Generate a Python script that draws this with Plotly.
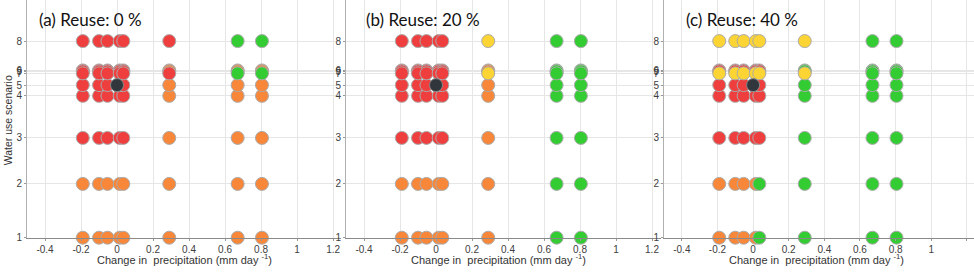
import plotly.graph_objects as go

# ---------------- data ----------------
precip_change = [-0.19, -0.10, -0.053, 0.015, 0.035, 0.29, 0.67, 0.805]   # mm/day
scenarios = [1, 2, 3, 4, 5, 6, 9, 7, 8]                                   # drawing order
scenario_level = {1: 0, 2: 55, 3: 102, 4: 145, 5: 156, 6: 171, 9: 170, 7: 168, 8: 201}
tick_scenarios = [1, 2, 3, 4, 5, 6, 7, 9, 8]

panel_titles = ["(a) Reuse: 0 %", "(b) Reuse: 20 %", "(c) Reuse: 40 %"]

# outcome class per scenario row (one letter per precipitation column)
outcome_a = {1: "OOOOOOOO", 2: "OOOOOOOO", 3: "RRRRROOO", 4: "RRRRROOO", 5: "RRRRROOO",
             6: "RRRRROOO", 9: "RRRRROOO", 7: "RRRRRRGG", 8: "RRRRRRGG"}
outcome_b = {1: "OOOOOOGG", 2: "OOOOOOGG", 3: "RRRRROGG", 4: "RRRRROGG", 5: "RRRRROGG",
             6: "RRRRROGG", 9: "RRRRROGG", 7: "RRRRRYGG", 8: "RRRRRYGG"}
outcome_c = {1: "OOOOGGGG", 2: "OOOOGGGG", 3: "RRRRRGGG", 4: "RRRRRGGG", 5: "RRRRRGGG",
             6: "RRRRRGGG", 9: "RRRRRGGG", 7: "YYYYYYGG", 8: "YYYYYYGG"}
outcomes = [outcome_a, outcome_b, outcome_c]

baseline_x = [0.0]
baseline_scenario = [5]

x_tick_vals = [-0.4, -0.2, 0, 0.2, 0.4, 0.6, 0.8, 1, 1.2]
x_tick_text = ["-0.4", "-0.2", "0", "0.2", "0.4", "0.6", "0.8", "1", "1.2"]

# ---------------- style ----------------
W, H = 974, 275
palette = {"R": "#EF3E3E", "O": "#F8873A", "G": "#33CC33", "Y": "#FCD535"}
x_domains_px = [(27, 341), (346, 661), (664, 974)]
x_ranges = [[-0.5, 1.244], [-0.5, 1.25], [-0.5, 1.24]]
y_bottom_px, y_top_px = 243, 0
title_x_px = [37, 364, 684]
xtitle_center_px = [184, 498, 816]

fig = go.Figure()
for p in range(3):
    sfx = "" if p == 0 else str(p + 1)
    for s in scenarios:
        fig.add_trace(go.Scatter(
            x=precip_change, y=[scenario_level[s]] * len(precip_change),
            mode="markers", xaxis="x" + sfx, yaxis="y" + sfx, cliponaxis=False,
            marker=dict(size=13, color=[palette[c] for c in outcomes[p][s]],
                        line=dict(color="#ABABAB", width=1)),
            showlegend=False, hoverinfo="x+y"))
    fig.add_trace(go.Scatter(
        x=baseline_x, y=[scenario_level[s] for s in baseline_scenario],
        mode="markers", xaxis="x" + sfx, yaxis="y" + sfx, cliponaxis=False,
        marker=dict(size=13, color="#30363C", line=dict(color="#888888", width=1)),
        showlegend=False))

ybot = (H - y_bottom_px) / H
axis_common = dict(showgrid=True, gridcolor="#E6E6E6", gridwidth=1, zeroline=False,
                   showline=True, linecolor="#8A8A8A", linewidth=1,
                   ticks="outside", ticklen=2, tickcolor="#9A9A9A",
                   tickfont=dict(family="Liberation Sans, Arial", size=10, color="#404040"))
layout = dict(width=W, height=H, margin=dict(l=0, r=0, t=0, b=0),
              paper_bgcolor="white", plot_bgcolor="rgba(0,0,0,0)", showlegend=False)
for p in range(3):
    sfx = "" if p == 0 else str(p + 1)
    d0, d1 = x_domains_px[p]
    layout["xaxis" + sfx] = dict(axis_common, domain=[d0 / W, d1 / W], range=x_ranges[p],
                                 tickvals=x_tick_vals, ticktext=x_tick_text,
                                 anchor="y" + sfx)
    layout["yaxis" + sfx] = dict(axis_common, domain=[ybot, 1.0],
                                 range=[0, y_bottom_px - y_top_px],
                                 tickvals=[scenario_level[s] for s in tick_scenarios],
                                 ticktext=[str(s) for s in tick_scenarios],
                                 linecolor="#B0B0B0",
                                 anchor="x" + sfx)
fig.update_layout(**layout)

annotations = []
for p in range(3):
    annotations.append(dict(text=panel_titles[p], xref="paper", yref="paper",
                            x=title_x_px[p] / W, y=(H - 20) / H, xanchor="left", yanchor="middle",
                            showarrow=False, font=dict(family="Lato, Carlito", size=17, color="#111111")))
    annotations.append(dict(text="Change in  precipitation (mm day <sup>-1</sup>)", xref="paper", yref="paper",
                            x=xtitle_center_px[p] / W, y=(H - 265) / H, xanchor="center", yanchor="middle",
                            showarrow=False, font=dict(family="Liberation Sans, Arial", size=11, color="#333333")))
annotations.append(dict(text="Water use scenario", xref="paper", yref="paper",
                        x=8 / W, y=(H - 123) / H, xanchor="center", yanchor="middle", textangle=-90,
                        showarrow=False, font=dict(family="Liberation Sans, Arial", size=10.5, color="#333333")))
fig.update_layout(annotations=annotations)

page_fix = (
    "document.documentElement.style.margin='0';"
    "document.documentElement.style.overflow='hidden';"
    "document.body.style.margin='0';"
    "document.body.style.overflow='hidden';"
)
fig.write_html("out.html", config={"displayModeBar": False}, post_script=page_fix)
